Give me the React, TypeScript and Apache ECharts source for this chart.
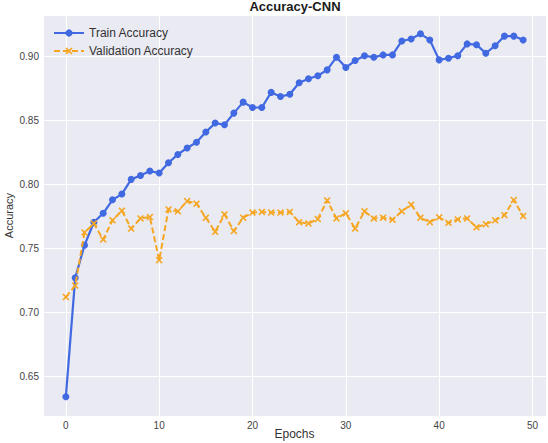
import React, { useEffect, useRef } from "react";
import * as echarts from "echarts";

const epochs: number[] = Array.from({ length: 50 }, (_, i) => i);

const trainAccuracy: number[] = [
  0.634, 0.727, 0.7525, 0.7705, 0.7775, 0.788, 0.7925, 0.804, 0.807, 0.8105,
  0.809, 0.817, 0.8235, 0.8285, 0.833, 0.841, 0.848, 0.8467, 0.8558, 0.8644,
  0.8602, 0.8602, 0.872, 0.8688, 0.8705, 0.8795, 0.8826, 0.885, 0.8896, 0.8995,
  0.8914, 0.8969, 0.9007, 0.8995, 0.9013, 0.9013, 0.9122, 0.9137, 0.9178, 0.913,
  0.8974, 0.8987, 0.9007, 0.9099, 0.9093, 0.9026, 0.9085, 0.916, 0.916, 0.913,
];

const validationAccuracy: number[] = [
  0.712, 0.721, 0.7625, 0.7695, 0.757, 0.772, 0.7795, 0.7655, 0.7735, 0.7745,
  0.7408, 0.7805, 0.779, 0.787, 0.785, 0.774, 0.763, 0.7766, 0.7637, 0.774,
  0.778, 0.7785, 0.778, 0.778, 0.7785, 0.7705, 0.7695, 0.773, 0.7875, 0.7735,
  0.7775, 0.7655, 0.779, 0.7735, 0.774, 0.7725, 0.779, 0.7842, 0.774, 0.7705,
  0.7743, 0.77, 0.7727, 0.7735, 0.7665, 0.769, 0.772, 0.776, 0.7878, 0.7753,
];

const seriesNames = ["Train Accuracy", "Validation Accuracy"];

const FONT = "'Liberation Sans', Arial, sans-serif";
const X_SYMBOL =
  "path://M0,1.6L1.6,0L5,3.4L8.4,0L10,1.6L6.6,5L10,8.4L8.4,10L5,6.6L1.6,10L0,8.4L3.4,5Z";

export default function App() {
  const ref = useRef<HTMLDivElement>(null);

  useEffect(() => {
    if (!ref.current) return;
    const chart = echarts.init(ref.current, undefined, { renderer: "svg" });
    const trainData = epochs.map((e, i) => [e, trainAccuracy[i]]);
    const valData = epochs.map((e, i) => [e, validationAccuracy[i]]);
    chart.setOption({
      animation: false,
      backgroundColor: "#ffffff",
      title: {
        text: "Accuracy-CNN",
        left: 295,
        textAlign: "center",
        top: 0,
        padding: 0,
        textStyle: { fontFamily: FONT, fontSize: 13, fontWeight: "bold", color: "#1a1a1a" },
      },
      grid: {
        left: 43,
        right: 2,
        top: 15,
        bottom: 27,
        show: true,
        backgroundColor: "#EAEAF2",
        borderWidth: 0,
        containLabel: false,
        outerBoundsMode: "none",
      },
      legend: {
        data: seriesNames,
        orient: "vertical",
        left: 48,
        top: 22,
        itemWidth: 30,
        itemHeight: 9,
        itemGap: 6,
        textStyle: { fontFamily: FONT, fontSize: 12, color: "#333" },
      },
      xAxis: {
        type: "value",
        min: -2.45,
        max: 51.45,
        splitNumber: 5,
        name: "Epochs",
        nameLocation: "middle",
        nameGap: 12,
        nameMoveOverlap: false,
        nameTextStyle: { fontFamily: FONT, fontSize: 12, color: "#333" },
        axisLine: { show: false },
        axisTick: { show: false },
        axisLabel: {
          showMinLabel: false,
          showMaxLabel: false,
          fontFamily: FONT,
          fontSize: 10,
          color: "#444",
          margin: 4,
          formatter: (v: number) => (Math.abs(v % 10) < 1e-6 ? String(v) : ""),
        },
        splitLine: { show: true, lineStyle: { color: "#ffffff", width: 1 } },
      },
      yAxis: {
        type: "value",
        min: 0.619,
        max: 0.9325,
        splitNumber: 5,
        name: "Accuracy",
        nameLocation: "middle",
        nameGap: 29,
        nameMoveOverlap: false,
        nameTextStyle: { fontFamily: FONT, fontSize: 11, color: "#333" },
        axisLine: { show: false },
        axisTick: { show: false },
        axisLabel: {
          showMinLabel: false,
          showMaxLabel: false,
          fontFamily: FONT,
          fontSize: 10,
          color: "#444",
          margin: 4,
          formatter: (v: number) => v.toFixed(2),
        },
        splitLine: { show: true, lineStyle: { color: "#ffffff", width: 1 } },
      },
      series: [
        {
          name: seriesNames[0],
          type: "line",
          data: trainData,
          symbol: "circle",
          symbolSize: 7,
          showAllSymbol: true,
          lineStyle: { color: "#4169E1", width: 2.2 },
          itemStyle: { color: "#4169E1" },
          z: 2,
        },
        {
          name: seriesNames[1],
          type: "line",
          data: valData,
          symbol: X_SYMBOL,
          symbolSize: 7,
          showAllSymbol: true,
          lineStyle: { color: "#F5A623", width: 2, type: [6, 3] },
          itemStyle: { color: "#F5A623" },
          z: 3,
        },
      ],
    });
    return () => chart.dispose();
  }, []);

  return (
    <div
      ref={ref}
      style={{ position: "fixed", left: 0, top: 0, width: 548, height: 443 }}
    />
  );
}
